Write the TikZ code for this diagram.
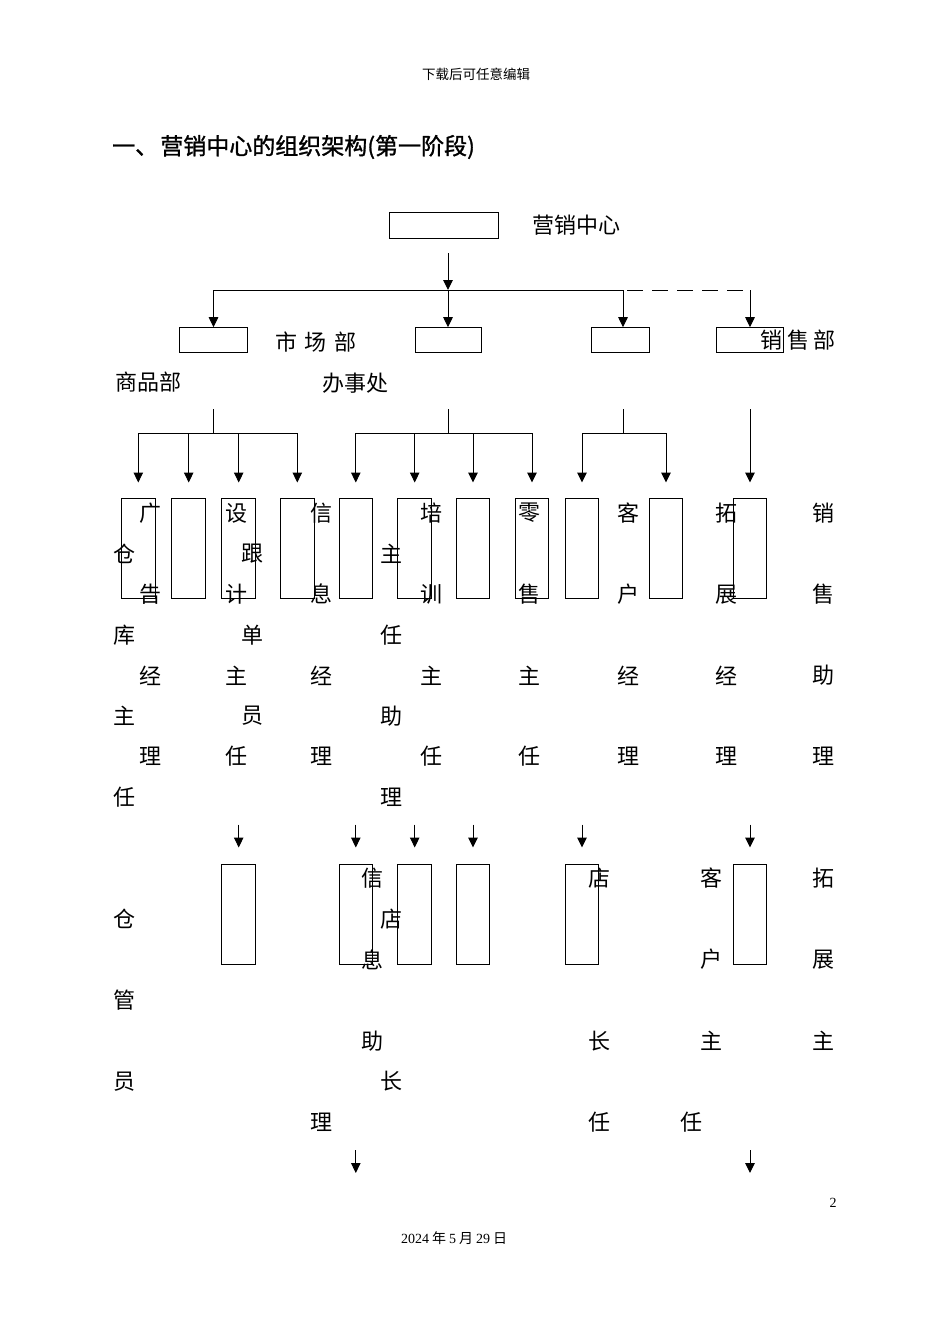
\documentclass[tikz,border=0pt]{standalone}
\usepackage{fontspec}
\setmainfont{Liberation Serif}
\newfontfamily\cjk{Noto Sans CJK SC}
\newfontfamily\cjkb[FakeBold=1.2]{Noto Sans CJK SC}
\usetikzlibrary{arrows.meta}
\begin{document}
\begin{tikzpicture}[x=1pt,y=-1pt,
  ln/.style={line width=1pt},
  vbox/.style={draw, ln, inner sep=0pt, minimum width=33.5pt, minimum height=100pt},
  hbox/.style={draw, ln, inner sep=0pt, minimum height=24.6pt},
  arr/.style={ln, -{Triangle[width=9.5pt,length=10pt]}},
  ch/.style={font=\cjk\fontsize{22}{22}\selectfont, inner sep=0pt},
  small/.style={font=\fontsize{14}{14}\selectfont, inner sep=0pt}
]
\useasboundingbox[fill=white] (0,0) rectangle (950,1344);

% header, title, footer
\node[small, font=\cjk\fontsize{13.5}{13.5}\selectfont] (hdr) at (476,74) {下载后可任意编辑};
\node[inner sep=0pt, anchor=west, font=\cjkb\fontsize{23}{23}\selectfont] (title) at (112,147) {一、\kern-3pt\ 营销中心的组织架构(第一阶段)};
\node[small] (pg) at (833,1203) {2};
\node[small] (date) at (454,1238) {2024\kern3pt{\cjk 年}\kern3pt 5\kern3pt{\cjk 月}\kern3pt 29\kern3pt{\cjk 日}};

% level 0 / 1 boxes
\node[hbox, minimum width=109pt, minimum height=26pt] (top) at (443.5,225.5) {};
\node[ch] (topl) at (576,225) {营销中心};
\node[hbox, minimum width=67.5pt] (b1) at (213.5,340) {};
\node[hbox, minimum width=66pt] (b2) at (448,340) {};
\node[hbox, minimum width=58pt] (b3) at (620,340) {};
\node[hbox, minimum width=67pt] (b4) at (750,340) {};
\node[ch] (l1) at (316,342) {市\hspace{7.5pt}场\hspace{7.5pt}部};
\node[ch] (l4) at (798,340) {销\hspace{5pt}售\hspace{5pt}部};
\node[ch] (l2) at (148,382) {商品部};
\node[ch] (l3) at (355,383) {办事处};

\coordinate (s0) at (448,253);
\coordinate (busL) at (213.5,290);
\coordinate (busM) at (448,290);
\coordinate (busR) at (623,290);
\coordinate (busD) at (750,290);
\draw[arr] (s0) -- (busM);
\draw[ln] (busL) -- (busR);
\draw[ln, dash pattern=on 16pt off 9pt, dash phase=-4pt] (busR) -- (busD);
\draw[arr] (busL) -- (b1.north);
\draw[arr] (busM) -- (b2.north);
\draw[arr] (busR) -- (busR |- b3.north);
\draw[arr] (busD) -- (b4.north);

% level 2 boxes
\foreach \n/\x in {A/138.3,B/188.7,C/238.7,D/297.3,E/355.8,F/414.7,G/473,H/532,I/582,J/666,K/750}
  \node[vbox] (\n) at (\x,548) {};

% level 2 stems and buses
\coordinate (g1t) at (213,409); \coordinate (g1b) at (213,433);
\coordinate (g2t) at (448,409); \coordinate (g2b) at (448,433);
\coordinate (g3t) at (623,409); \coordinate (g3b) at (623,433);
\coordinate (g4t) at (750,409);
\draw[ln] (g1t) -- (g1b);
\draw[ln] (g2t) -- (g2b);
\draw[ln] (g3t) -- (g3b);
\draw[ln] (A.north |- g1b) -- (D.north |- g1b);
\draw[ln] (E.north |- g2b) -- (H.north |- g2b);
\draw[ln] (I.north |- g3b) -- (J.north |- g3b);
\foreach \n in {A,B,C,D}
  \draw[arr] (\n.north |- g1b) -- ([yshift=15pt]\n.north);
\foreach \n in {E,F,G,H}
  \draw[arr] (\n.north |- g2b) -- ([yshift=15pt]\n.north);
\foreach \n in {I,J}
  \draw[arr] (\n.north |- g3b) -- ([yshift=15pt]\n.north);
\draw[arr] (g4t) -- ([yshift=15pt]K.north);

% level 3 boxes
\foreach \n/\x in {C2/238.7,E2/355.8,F2/414.7,G2/473,I2/582,K2/750}
  \node[vbox] (\n) at (\x,914) {};
\foreach \n in {C2,E2,F2,G2,I2,K2}
  \draw[arr] ([yshift=39pt]\n.north) -- ([yshift=16pt]\n.north);

% level 4 arrows
\coordinate (e4t) at (355.8,1150); \coordinate (e4b) at (355.8,1173);
\coordinate (k4t) at (750,1150); \coordinate (k4b) at (750,1173);
\draw[arr] (e4t) -- (e4b);
\draw[arr] (k4t) -- (k4b);

% scattered characters
\foreach \x/\y/\c [count=\i] in {
  150/513/广, 236/513/设, 321/513/信, 431/513/培, 529/513/零, 628/513/客, 726/513/拓, 823/513/销,
  124/553.6/仓, 252/553.6/跟, 391/553.6/主,
  150/594.2/告, 236/594.2/计, 321/594.2/息, 431/594.2/训, 529/594.2/售, 628/594.2/户, 726/594.2/展, 823/594.2/售,
  124/634.8/库, 252/634.8/单, 391/634.8/任,
  150/675.4/经, 236/675.4/主, 321/675.4/经, 431/675.4/主, 529/675.4/主, 628/675.4/经, 726/675.4/经, 823/675.4/助,
  124/716/主, 252/716/员, 391/716/助,
  150/756.6/理, 236/756.6/任, 321/756.6/理, 431/756.6/任, 529/756.6/任, 628/756.6/理, 726/756.6/理, 823/756.6/理,
  124/797.2/任, 391/797.2/理,
  372/878.4/信, 599/878.4/店, 711/878.4/客, 823/878.4/拓,
  124/919/仓, 391/919/店,
  372/959.6/息, 711/959.6/户, 823/959.6/展,
  124/1000.2/管,
  372/1040.8/助, 599/1040.8/长, 711/1040.8/主, 823/1040.8/主,
  124/1081.4/员, 391/1081.4/长,
  321/1122/理, 599/1122/任, 691/1122/任}
  \node[ch] (k\i) at (\x,\y) {\c};
\end{tikzpicture}
\end{document}
